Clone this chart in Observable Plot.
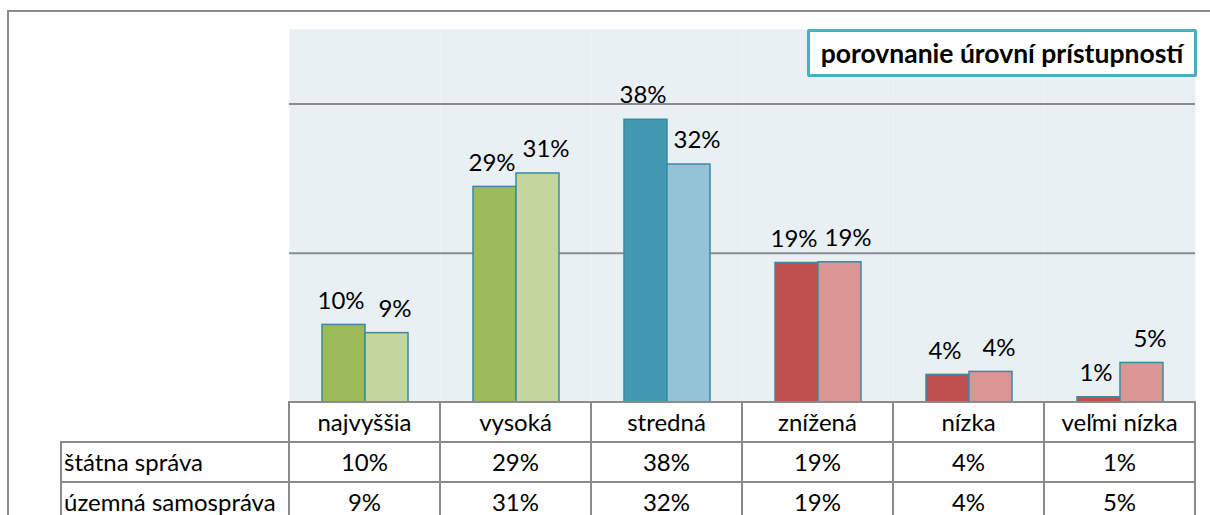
<!DOCTYPE html>
<html>
<head>
<meta charset="utf-8">
<script src="https://cdn.jsdelivr.net/npm/d3@7"></script>
<script src="https://cdn.jsdelivr.net/npm/@observablehq/plot@0.6"></script>
<style>
  html, body { margin: 0; padding: 0; background: #fff; overflow: hidden; width: 1210px; height: 515px; }
  #wrap { position: relative; width: 1210px; height: 515px; font-family: Lato, "Open Sans", sans-serif; color: #000; }
  #outer { position: absolute; left: 7px; top: 10px; width: 1400px; height: 800px; border: 2px solid #8c8c8c; }
  #chart { position: absolute; left: 0; top: 0; }
  #chart svg { font-family: Lato, "Open Sans", sans-serif; }
  #title { position: absolute; box-sizing: border-box; border: 3px solid #4BACC6; border-radius: 2px; background: #fff;
           font-weight: bold; font-size: 26.5px; display: flex; align-items: center; justify-content: center; white-space: nowrap; }
  table { position: absolute; border-collapse: collapse; table-layout: fixed; font-size: 24px; }
  td { border: 2px solid #8b8b8b; padding: 0; text-align: center; height: 38px; line-height: 38px; white-space: nowrap; overflow: hidden; }
  td.lbl { text-align: left; padding-left: 2px; }
  td.empty { border-top: none; border-left: none; }
</style>
</head>
<body>
<div id="wrap">
  <div id="outer"></div>
  <div id="chart"></div>
  <div id="title"></div>
  <table id="tbl"></table>
</div>
<script>
// ---- data ----
const chartTitle = "porovnanie úrovní prístupností";
const categories = ["najvyššia", "vysoká", "stredná", "znížená", "nízka", "veľmi nízka"];
const seriesNames = ["štátna správa", "územná samospráva"];
const statnaSprava = [10.4, 28.9, 37.9, 18.7, 3.7, 0.7];
const uzemnaSamosprava = [9.3, 30.7, 31.9, 18.8, 4.1, 5.3];
const yGrid = [20, 40];

// ---- styling ----
const darkFill  = {"najvyššia": "#9BBB59", "vysoká": "#9BBB59", "stredná": "#4299B1", "znížená": "#C0504D", "nízka": "#C0504D", "veľmi nízka": "#C0504D"};
const lightFill = {"najvyššia": "#C3D69B", "vysoká": "#C3D69B", "stredná": "#93C4D5", "znížená": "#D99694", "nízka": "#D99694", "veľmi nízka": "#D99694"};

const W = 1210, plotLeft = 289, plotRight = 1195, plotTop = 29, plotBottom = 402;
const fmt = v => Math.round(v) + "%";

const valuesBySeries = [statnaSprava, uzemnaSamosprava];
const data = categories.flatMap((c, i) => seriesNames.map((s, j) => ({
  category: c, series: s, value: valuesBySeries[j][i],
  color: j === 0 ? darkFill[c] : lightFill[c]
})));

const chart = Plot.plot({
  width: W,
  height: plotBottom + 2,
  marginLeft: plotLeft,
  marginRight: W - plotRight,
  marginTop: plotTop,
  marginBottom: 2,
  style: {background: "transparent", fontSize: "24px", color: "#000"},
  fx: {domain: categories, padding: 0, axis: null},
  x: {domain: seriesNames, paddingInner: 0, paddingOuter: 0.744, axis: null},
  y: {domain: [0, 50], axis: null},
  color: {type: "identity"},
  marks: [
    Plot.frame({fill: "#E9F0F4", stroke: "none"}),
    Plot.ruleY(yGrid, {stroke: "#8c8c8c", strokeWidth: 2}),
    Plot.barY(data, {fx: "category", x: "series", y: "value", fill: "color", stroke: "#3A8AA2", strokeWidth: 1.5}),
    Plot.text(data.filter(d => d.series === seriesNames[0]), {fx: "category", x: "series", y: "value", text: d => fmt(d.value), dy: -24, dx: -3, fill: "#000"}),
    Plot.text(data.filter(d => d.series === seriesNames[1]), {fx: "category", x: "series", y: "value", text: d => fmt(d.value), dy: -24, dx: 8, fill: "#000"})
  ]
});
document.getElementById("chart").appendChild(chart);

// title box
const t = document.getElementById("title");
t.textContent = chartTitle;
Object.assign(t.style, {left: "807px", top: plotTop + "px", width: (1197 - 807) + "px", height: "48px"});

// data table
const tbl = document.getElementById("tbl");
const colW = (plotRight - plotLeft) / categories.length;
const labelLeft = 61;
tbl.style.left = (labelLeft - 1) + "px";
tbl.style.top = (plotBottom - 1) + "px";
const colgroup = document.createElement("colgroup");
[plotLeft - labelLeft, ...categories.map(() => colW)].forEach(w => {
  const col = document.createElement("col"); col.style.width = w + "px"; colgroup.appendChild(col);
});
tbl.appendChild(colgroup);
const head = tbl.insertRow();
const e = head.insertCell(); e.className = "empty";
categories.forEach(c => { head.insertCell().textContent = c; });
seriesNames.forEach((s, j) => {
  const r = tbl.insertRow();
  const l = r.insertCell(); l.className = "lbl"; l.textContent = s;
  valuesBySeries[j].forEach(v => { r.insertCell().textContent = fmt(v); });
});
</script>
</body>
</html>
